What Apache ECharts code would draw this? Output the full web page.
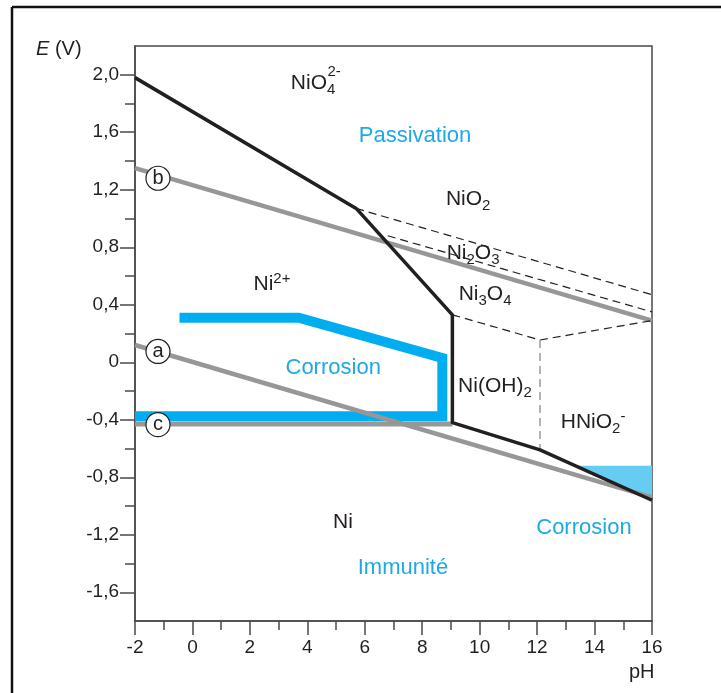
<!DOCTYPE html>
<html><head><meta charset="utf-8">
<script src="https://cdn.jsdelivr.net/npm/echarts@6/dist/echarts.min.js"></script>
<style>html,body{margin:0;padding:0;background:#fff}#c{width:721px;height:693px}</style>
</head><body><div id="c"></div>
<script>
// ---- axis ticks ----
const xMajorTicks = [-2, 0, 2, 4, 6, 8, 10, 12, 14, 16];
const xMinorTicks = [-1, 1, 3, 5, 7, 9, 11, 13, 15];
const yMajorTicks = [-1.6, -1.2, -0.8, -0.4, 0, 0.4, 0.8, 1.2, 1.6, 2.0];
const yMinorTicks = [-1.4, -1.0, -0.6, -0.2, 0.2, 0.6, 1.0, 1.4, 1.8];

// ---- lines [pH, E] ----
const blackBoundary = [[-2, 1.98], [5.7, 1.07], [9.05, 0.33], [9.05, -0.42], [12.1, -0.61], [16, -0.96]];
const lineA = [[-2, 0.12], [16, -0.94]];
const lineB = [[-2, 1.35], [16, 0.29]];
const lineC = [[-2, -0.43], [9.05, -0.43]];
const dashedNiO2 = [[5.7, 1.07], [16, 0.47]];
const dashedNi2O3 = [[6.8, 0.88], [16, 0.35]];
const dashedNi3O4 = [[9.05, 0.33], [12.1, 0.155], [16, 0.29]];
const dashedVertical = [[12.1, 0.155], [12.1, -0.61]];
const corrosionLine = [[-0.45, 0.31], [3.7, 0.31], [8.7, 0.03], [8.7, -0.375], [-2, -0.375]];
const corrosionFill = [[13.39, -0.72], [16, -0.72], [16, -0.96]];

// ---- circled line labels ----
const circleLabels = ['a', 'b', 'c'];
const circlePos = [[-1.2, 0.075], [-1.2, 1.28], [-1.2, -0.434]];

// ---- region labels ----
const regionTexts = ['{n|NiO}{s|4}', '{q|2-}', '{c|Passivation}', '{n|NiO}{s|2}', '{n|Ni}{s|2}{n|O}{s|3}',
  '{n|Ni}{s|3}{n|O}{s|4}', '{n|Ni}{p|2+}', '{c|Corrosion}', '{n|Ni(OH)}{s|2}', '{n|HNiO}{s|2}{p|-}',
  '{n|Ni}', '{c|Immunité}', '{c|Corrosion}'];
const regionPos = [[4.2, 1.94], [4.93, 2.02], [7.75, 1.575], [9.6, 1.135], [9.77, 0.76],
  [10.19, 0.473], [2.77, 0.54], [4.9, -0.043], [10.53, -0.17], [13.95, -0.42],
  [5.24, -1.11], [7.33, -1.43], [13.63, -1.15]];

const FONT = '"Liberation Sans", Arial, sans-serif';
const DARK = '#231f20';
const CYAN = '#00aeef';
const CYAN_TEXT = '#1fa9e3';
const GRAY = '#979797';

const fmtY = v => (Math.abs(v) < 1e-9 ? '0' : v.toFixed(1).replace('.', ','));

const chart = echarts.init(document.getElementById('c'), null, {renderer: 'canvas'});

const axisLineStyle = {color: '#4a4a4a', width: 1.5};

const option = {
  animation: false,
  backgroundColor: '#fff',
  grid: {left: 135, right: 69, top: 46, bottom: 72, show: true, borderColor: '#4a4a4a', borderWidth: 1.5, backgroundColor: 'transparent'},
  xAxis: [
    {type: 'value', min: -2, max: 16, position: 'bottom',
     axisLine: {show: true, onZero: false, lineStyle: axisLineStyle},
     axisTick: {show: true, length: 14, lineStyle: axisLineStyle, customValues: xMajorTicks},
     axisLabel: {show: true, customValues: xMajorTicks, margin: 17, fontSize: 19, color: DARK, fontFamily: FONT,
       formatter: v => String(v)},
     splitLine: {show: false}},
    {type: 'value', min: -2, max: 16, position: 'bottom',
     axisLine: {show: false, onZero: false},
     axisTick: {show: true, length: 9, lineStyle: axisLineStyle, customValues: xMinorTicks},
     axisLabel: {show: false}, splitLine: {show: false}}
  ],
  yAxis: [
    {type: 'value', min: -1.8, max: 2.2, position: 'left',
     axisLine: {show: true, onZero: false, lineStyle: axisLineStyle},
     axisTick: {show: true, length: 15, lineStyle: axisLineStyle, customValues: yMajorTicks},
     axisLabel: {show: true, customValues: yMajorTicks, margin: 16, fontSize: 19, color: DARK, fontFamily: FONT,
       formatter: fmtY},
     splitLine: {show: false}},
    {type: 'value', min: -1.8, max: 2.2, position: 'left',
     axisLine: {show: false, onZero: false},
     axisTick: {show: true, length: 10, lineStyle: axisLineStyle, customValues: yMinorTicks},
     axisLabel: {show: false}, splitLine: {show: false}}
  ],
  graphic: [
    {type: 'line', shape: {x1: 12, y1: 7, x2: 721, y2: 7}, style: {stroke: '#111', lineWidth: 2.5}, silent: true},
    {type: 'line', shape: {x1: 12, y1: 7, x2: 12, y2: 693}, style: {stroke: '#111', lineWidth: 2.5}, silent: true},
    {type: 'text', left: 36, top: 39, style: {text: '{i|E} (V)', fill: DARK, font: '20px ' + FONT,
      rich: {i: {fontStyle: 'italic', fontSize: 20, fontFamily: FONT, fill: DARK}}}},
    {type: 'text', left: 629, top: 662, style: {text: 'pH', fill: DARK, font: '20px ' + FONT}}
  ],
  series: [
    {type: 'custom', z: 1, silent: true,
     data: corrosionFill,
     renderItem: (params, api) => {
       if (params.dataIndex !== 0) return null;
       const pts = corrosionFill.map(p => api.coord(p));
       return {type: 'polygon', shape: {points: pts}, style: {fill: '#66ccf2'}};
     }},
    {type: 'line', z: 2, data: corrosionLine, symbol: 'none', silent: true,
     lineStyle: {color: CYAN, width: 10, join: 'miter', cap: 'butt'}},
    {type: 'line', z: 3, data: lineA, symbol: 'none', silent: true, lineStyle: {color: GRAY, width: 4.5}},
    {type: 'line', z: 3, data: lineB, symbol: 'none', silent: true, lineStyle: {color: GRAY, width: 4.5}},
    {type: 'line', z: 3, data: lineC, symbol: 'none', silent: true, lineStyle: {color: GRAY, width: 5}},
    {type: 'line', z: 3, data: dashedNiO2, symbol: 'none', silent: true, lineStyle: {color: DARK, width: 1.2, type: [8, 5]}},
    {type: 'line', z: 3, data: dashedNi2O3, symbol: 'none', silent: true, lineStyle: {color: DARK, width: 1.2, type: [8, 5]}},
    {type: 'line', z: 3, data: dashedNi3O4, symbol: 'none', silent: true, lineStyle: {color: DARK, width: 1.2, type: [8, 5]}},
    {type: 'line', z: 3, data: dashedVertical, symbol: 'none', silent: true, lineStyle: {color: '#a0a0a0', width: 1.6, type: [8, 5]}},
    {type: 'line', z: 4, data: blackBoundary, symbol: 'none', silent: true, lineStyle: {color: DARK, width: 3.5, join: 'round'}},
    {type: 'scatter', z: 5, silent: true, symbol: 'circle', symbolSize: 24,
     itemStyle: {color: '#fff', borderColor: DARK, borderWidth: 1.2, opacity: 1},
     data: circlePos.map((p, i) => ({value: p, name: circleLabels[i]})),
     label: {show: true, position: 'inside', formatter: p => p.name, fontSize: 20, color: DARK, fontFamily: FONT,
       textBorderWidth: 0}},
    {type: 'scatter', z: 6, silent: true, symbolSize: 0, itemStyle: {color: '#fff', opacity: 1},
     data: regionPos.map((p, i) => ({value: p})),
     label: {show: true, position: 'inside', color: DARK, formatter: p => regionTexts[p.dataIndex], textBorderWidth: 0,
       rich: {
         n: {fontSize: 21, color: DARK, fontFamily: FONT, textBorderWidth: 0},
         s: {fontSize: 15, color: DARK, fontFamily: FONT, padding: [13, 0, 0, 0], textBorderWidth: 0},
         p: {fontSize: 15, color: DARK, fontFamily: FONT, padding: [0, 0, 11, 0], textBorderWidth: 0},
         q: {fontSize: 15, color: DARK, fontFamily: FONT, textBorderWidth: 0},
         c: {fontSize: 22, color: CYAN_TEXT, fontFamily: FONT, textBorderWidth: 0}
       }}}
  ]
};
chart.setOption(option);
</script></body></html>
